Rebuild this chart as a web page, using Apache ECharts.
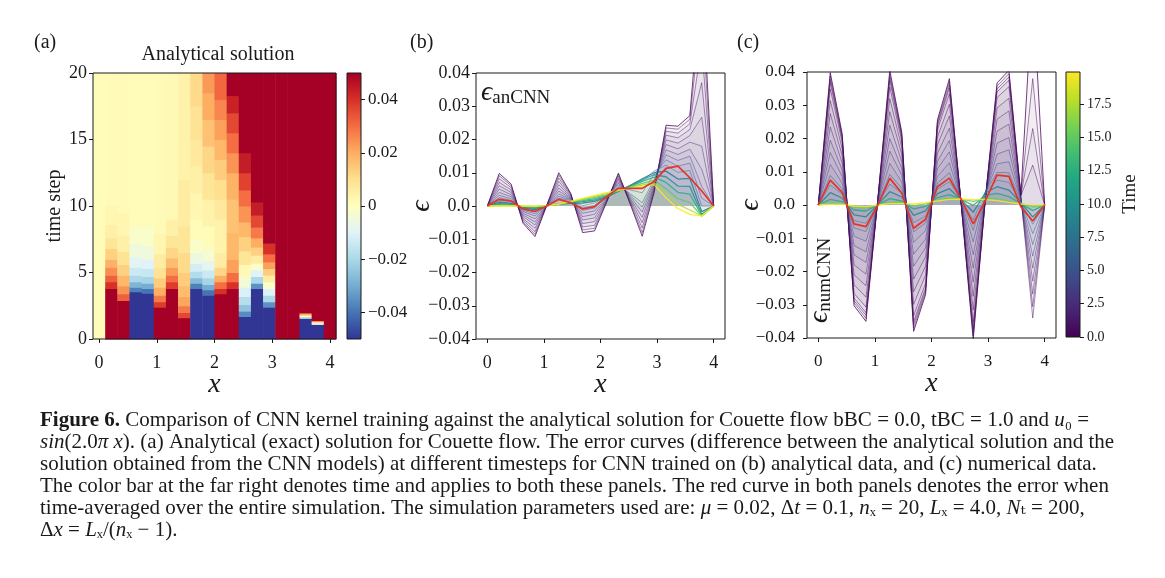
<!DOCTYPE html>
<html>
<head>
<meta charset="utf-8">
<title>Figure 6 - CNN kernel training vs analytical solution</title>
<script src="https://cdn.jsdelivr.net/npm/echarts@6.0.0/dist/echarts.min.js"></script>
<style>
  html, body { margin: 0; padding: 0; background: #fff; }
  #chart { width: 1165px; height: 578px; }
</style>
</head>
<body>
<div id="chart"></div>
<script>
// grid points in x (nx = 20, Lx = 4.0)
const xPts = [0.000, 0.211, 0.421, 0.632, 0.842, 1.053, 1.263, 1.474, 1.684, 1.895,
              2.105, 2.316, 2.526, 2.737, 2.947, 3.158, 3.368, 3.579, 3.789, 4.000];

// panel (a): each column is a list of runs [tStart, tEnd, value]
const heatCols = [
  [[0, 20, 0.001]],
  [[0, 3.8, 0.06], [3.8, 4.3, 0.04], [4.3, 4.8, 0.032], [4.8, 5.4, 0.025], [5.4, 6.0, 0.019], [6.0, 6.8, 0.013], [6.8, 7.6, 0.008], [7.6, 8.6, 0.005], [8.6, 10, 0.003], [10, 20, 0.0015]],
  [[0, 2.9, 0.06], [2.9, 3.4, 0.032], [3.4, 4.0, 0.024], [4.0, 4.8, 0.018], [4.8, 5.6, 0.013], [5.6, 6.6, 0.009], [6.6, 7.8, 0.005], [7.8, 9.5, 0.003], [9.5, 20, 0.0015]],
  [[0, 3.55, -0.06], [3.55, 3.9, -0.038], [3.9, 4.3, -0.028], [4.3, 4.8, -0.02], [4.8, 5.4, -0.014], [5.4, 6.2, -0.009], [6.2, 7.2, -0.005], [7.2, 8.5, -0.002], [8.5, 20, 0.001]],
  [[0, 3.45, -0.06], [3.45, 3.8, -0.04], [3.8, 4.2, -0.03], [4.2, 4.7, -0.021], [4.7, 5.3, -0.015], [5.3, 6.0, -0.01], [6.0, 7.0, -0.005], [7.0, 8.5, -0.002], [8.5, 20, 0.001]],
  [[0, 2.4, 0.06], [2.4, 2.8, 0.038], [2.8, 3.3, 0.028], [3.3, 3.9, 0.02], [3.9, 4.6, 0.014], [4.6, 5.4, 0.009], [5.4, 6.4, 0.006], [6.4, 8, 0.003], [8, 20, 0.0015]],
  [[0, 3.8, 0.06], [3.8, 4.3, 0.038], [4.3, 4.8, 0.03], [4.8, 5.4, 0.023], [5.4, 6.1, 0.017], [6.1, 6.9, 0.012], [6.9, 7.8, 0.008], [7.8, 9, 0.005], [9, 20, 0.002]],
  [[0, 1.6, 0.06], [1.6, 2.0, 0.036], [2.0, 2.5, 0.028], [2.5, 3.2, 0.021], [3.2, 4.0, 0.017], [4.0, 5.0, 0.014], [5.0, 6.5, 0.011], [6.5, 8.5, 0.008], [8.5, 12, 0.006], [12, 20, 0.004]],
  [[0, 3.8, -0.06], [3.8, 4.2, -0.038], [4.2, 4.6, -0.027], [4.6, 5.1, -0.019], [5.1, 5.7, -0.012], [5.7, 6.5, -0.006], [6.5, 7.5, -0.002], [7.5, 9, 0.001], [9, 11, 0.003], [11, 13, 0.005], [13, 15, 0.007], [15, 17.5, 0.009], [17.5, 20, 0.011]],
  [[0, 3.3, -0.06], [3.3, 3.7, -0.04], [3.7, 4.1, -0.03], [4.1, 4.6, -0.021], [4.6, 5.2, -0.014], [5.2, 5.9, -0.008], [5.9, 6.8, -0.003], [6.8, 8.5, 0.001], [8.5, 10.5, 0.004], [10.5, 12.5, 0.008], [12.5, 14.5, 0.012], [14.5, 16.5, 0.016], [16.5, 18.5, 0.02], [18.5, 20, 0.023]],
  [[0, 3.4, 0.06], [3.4, 3.8, 0.04], [3.8, 4.3, 0.03], [4.3, 4.8, 0.02], [4.8, 5.4, 0.012], [5.4, 6.5, 0.006], [6.5, 9, 0.004], [9, 10.5, 0.007], [10.5, 12, 0.01], [12, 13.5, 0.014], [13.5, 15, 0.018], [15, 16.5, 0.022], [16.5, 18, 0.026], [18, 20, 0.031]],
  [[0, 3.8, 0.06], [3.8, 4.3, 0.04], [4.3, 5.0, 0.03], [5.0, 6.0, 0.022], [6.0, 8.0, 0.018], [8.0, 10.5, 0.016], [10.5, 12.5, 0.019], [12.5, 14.0, 0.024], [14.0, 15.5, 0.03], [15.5, 17.0, 0.036], [17.0, 18.3, 0.043], [18.3, 20, 0.06]],
  [[0, 1.7, -0.06], [1.7, 2.1, -0.036], [2.1, 2.6, -0.025], [2.6, 3.2, -0.018], [3.2, 3.9, -0.011], [3.9, 4.7, -0.004], [4.7, 5.6, 0.002], [5.6, 6.6, 0.008], [6.6, 7.7, 0.013], [7.7, 8.8, 0.018], [8.8, 10, 0.024], [10, 11.2, 0.03], [11.2, 12.5, 0.037], [12.5, 14, 0.044], [14, 20, 0.06]],
  [[0, 3.8, -0.06], [3.8, 4.2, -0.035], [4.2, 4.7, -0.02], [4.7, 5.2, -0.01], [5.2, 5.7, -0.002], [5.7, 6.3, 0.006], [6.3, 6.9, 0.013], [6.9, 7.6, 0.02], [7.6, 8.4, 0.028], [8.4, 9.3, 0.036], [9.3, 10.3, 0.044], [10.3, 20, 0.06]],
  [[0, 2.4, -0.06], [2.4, 2.8, -0.035], [2.8, 3.3, -0.02], [3.3, 3.8, -0.01], [3.8, 4.3, -0.002], [4.3, 4.8, 0.006], [4.8, 5.3, 0.014], [5.3, 5.8, 0.022], [5.8, 6.4, 0.03], [6.4, 7.2, 0.04], [7.2, 20, 0.06]],
  [[0, 20, 0.06]],
  [[0, 20, 0.06]],
  [[0, 1.55, -0.06], [1.55, 1.68, -0.02], [1.68, 1.8, 0.0], [1.8, 1.92, 0.02], [1.92, 2.0, 0.035], [2.0, 20, 0.06]],
  [[0, 1.1, -0.06], [1.1, 1.2, -0.01], [1.2, 1.3, 0.005], [1.3, 1.4, 0.025], [1.4, 20, 0.06]],
  [[0, 20, 0.06]]
];

// panel (b): error curves at selected times (epsilon_anCNN)
const timesB = [0, 0.3, 0.7, 1.2, 1.8, 2.5, 3.3, 4.2, 5.2, 6.4, 8, 10, 12.5, 15, 17.5, 19.9];
const linesB = [
  [0, 0.0098, 0.0066, -0.0052, -0.0092, 0.0003, 0.0100, 0.0038, -0.0080, -0.0075, 0.0010, 0.0099, 0.0005, -0.0091, 0.0040, 0.0243, 0.0240, 0.0272, 0.0700, 0],
  [0, 0.0091, 0.0061, -0.0048, -0.0085, 0.0003, 0.0093, 0.0036, -0.0072, -0.0067, 0.0012, 0.0095, 0.0009, -0.0080, 0.0045, 0.0235, 0.0231, 0.0261, 0.0599, 0],
  [0, 0.0082, 0.0055, -0.0043, -0.0077, 0.0003, 0.0084, 0.0034, -0.0063, -0.0058, 0.0014, 0.0090, 0.0013, -0.0066, 0.0050, 0.0225, 0.0219, 0.0247, 0.0485, 0],
  [0, 0.0071, 0.0048, -0.0038, -0.0067, 0.0003, 0.0074, 0.0031, -0.0053, -0.0047, 0.0017, 0.0084, 0.0018, -0.0050, 0.0056, 0.0213, 0.0205, 0.0230, 0.0371, 0],
  [0, 0.0061, 0.0041, -0.0032, -0.0057, 0.0002, 0.0064, 0.0028, -0.0042, -0.0036, 0.0020, 0.0079, 0.0023, -0.0034, 0.0062, 0.0199, 0.0189, 0.0212, 0.0267, 0],
  [0, 0.0051, 0.0034, -0.0027, -0.0048, 0.0002, 0.0054, 0.0025, -0.0032, -0.0025, 0.0023, 0.0073, 0.0028, -0.0018, 0.0068, 0.0185, 0.0172, 0.0192, 0.0180, 0],
  [0, 0.0041, 0.0028, -0.0022, -0.0039, 0.0002, 0.0045, 0.0023, -0.0022, -0.0015, 0.0025, 0.0068, 0.0033, -0.0003, 0.0073, 0.0169, 0.0155, 0.0171, 0.0110, 0],
  [0, 0.0032, 0.0022, -0.0017, -0.0030, 0.0002, 0.0036, 0.0021, -0.0013, -0.0006, 0.0027, 0.0063, 0.0037, 0.0010, 0.0080, 0.0154, 0.0137, 0.0150, 0.0059, 0],
  [0, 0.0025, 0.0017, -0.0013, -0.0023, 0.0002, 0.0029, 0.0019, -0.0006, 0.0002, 0.0028, 0.0057, 0.0048, 0.0040, 0.0095, 0.0139, 0.0120, 0.0129, 0.0024, 0],
  [0, 0.0018, 0.0012, -0.0010, -0.0017, 0.0001, 0.0023, 0.0017, 0.0001, 0.0009, 0.0025, 0.0048, 0.0060, 0.0075, 0.0105, 0.0123, 0.0101, 0.0107, 0.0000, 0],
  [0, 0.0012, 0.0008, -0.0006, -0.0011, 0.0001, 0.0006, 0.0008, 0.0009, 0.0014, 0.0026, 0.0045, 0.0062, 0.0082, 0.0100, 0.0105, 0.0081, 0.0083, -0.0017, 0],
  [0, 0.0007, 0.0005, -0.0004, -0.0007, 0.0001, 0.0006, 0.0010, 0.0013, 0.0018, 0.0028, 0.0044, 0.0061, 0.0079, 0.0094, 0.0088, 0.0060, 0.0059, -0.0025, 0],
  [0, 0.0004, 0.0002, -0.0002, -0.0003, 0.0001, 0.0006, 0.0011, 0.0016, 0.0022, 0.0031, 0.0045, 0.0059, 0.0074, 0.0087, 0.0071, 0.0041, 0.0036, -0.0029, 0],
  [0, 0.0002, 0.0001, -0.0001, -0.0002, 0.0001, 0.0006, 0.0012, 0.0019, 0.0026, 0.0034, 0.0046, 0.0057, 0.0068, 0.0078, 0.0052, 0.0022, 0.0010, -0.0030, 0],
  [0, 0.0001, 0.0001, 0.0000, -0.0001, 0.0001, 0.0006, 0.0013, 0.0021, 0.0029, 0.0037, 0.0047, 0.0055, 0.0063, 0.0070, 0.0038, 0.0005, -0.0012, -0.0030, 0],
  [0, 0.0000, 0.0000, 0.0000, 0.0000, 0.0001, 0.0006, 0.0014, 0.0023, 0.0032, 0.0040, 0.0048, 0.0054, 0.0059, 0.0064, 0.0025, -0.0008, -0.0025, -0.0030, 0]
];
const meanB = [0, 0.0020, 0.0015, -0.0009, -0.0016, 0, 0.0020, 0.0010, -0.0009, -0.0002, 0.0028, 0.0053, 0.0053, 0.0053, 0.0074, 0.0113, 0.0120, 0.0085, 0.0045, 0];

// panel (c): error curves at selected times (epsilon_numCNN)
const timesC = [0, 0.1, 0.2, 0.3, 0.5, 0.9, 1.4, 2, 2.7, 3.5, 4.5, 5.7, 7.2, 9, 12, 15.5, 19.9];
const linesC = [
  [0, 0.0398, 0.0215, -0.0303, -0.0350, 0.0020, 0.0405, 0.0220, -0.0380, -0.0270, 0.0256, 0.0380, 0.0000, -0.0405, 0.0010, 0.0367, 0.0405, 0.0030, 0.0650, 0],
  [0, 0.0388, 0.0209, -0.0295, -0.0341, 0.0019, 0.0394, 0.0214, -0.0370, -0.0263, 0.0250, 0.0371, 0.0001, -0.0394, 0.0010, 0.0358, 0.0395, 0.0030, 0.0380, 0],
  [0, 0.0378, 0.0204, -0.0288, -0.0332, 0.0019, 0.0384, 0.0209, -0.0360, -0.0256, 0.0243, 0.0361, 0.0001, -0.0383, 0.0010, 0.0349, 0.0385, 0.0029, 0.0230, 0],
  [0, 0.0368, 0.0199, -0.0280, -0.0324, 0.0018, 0.0374, 0.0203, -0.0351, -0.0249, 0.0237, 0.0352, 0.0001, -0.0373, 0.0010, 0.0340, 0.0375, 0.0028, 0.0120, 0],
  [0, 0.0349, 0.0189, -0.0266, -0.0307, 0.0018, 0.0355, 0.0193, -0.0333, -0.0236, 0.0226, 0.0335, 0.0002, -0.0353, 0.0011, 0.0323, 0.0356, 0.0027, -0.0340, 0],
  [0, 0.0314, 0.0170, -0.0240, -0.0277, 0.0016, 0.0320, 0.0174, -0.0299, -0.0211, 0.0204, 0.0303, 0.0004, -0.0316, 0.0013, 0.0292, 0.0321, 0.0025, -0.0306, 0],
  [0, 0.0275, 0.0149, -0.0210, -0.0243, 0.0014, 0.0281, 0.0153, -0.0261, -0.0184, 0.0181, 0.0268, 0.0006, -0.0275, 0.0016, 0.0258, 0.0283, 0.0022, -0.0268, 0],
  [0, 0.0235, 0.0127, -0.0180, -0.0208, 0.0012, 0.0240, 0.0131, -0.0223, -0.0156, 0.0156, 0.0231, 0.0007, -0.0232, 0.0020, 0.0222, 0.0243, 0.0019, -0.0229, 0],
  [0, 0.0195, 0.0106, -0.0150, -0.0173, 0.0010, 0.0200, 0.0110, -0.0184, -0.0129, 0.0131, 0.0194, 0.0009, -0.0190, 0.0025, 0.0186, 0.0203, 0.0017, -0.0190, 0],
  [0, 0.0158, 0.0086, -0.0122, -0.0141, 0.0008, 0.0162, 0.0090, -0.0148, -0.0103, 0.0109, 0.0160, 0.0011, -0.0150, 0.0030, 0.0153, 0.0166, 0.0015, -0.0154, 0],
  [0, 0.0122, 0.0066, -0.0094, -0.0109, 0.0006, 0.0125, 0.0069, -0.0113, -0.0077, 0.0086, 0.0127, 0.0012, -0.0111, 0.0034, 0.0124, 0.0130, 0.0013, -0.0119, 0],
  [0, 0.0089, 0.0049, -0.0069, -0.0080, 0.0004, 0.0092, 0.0051, -0.0081, -0.0054, 0.0066, 0.0097, 0.0014, -0.0076, 0.0037, 0.0098, 0.0097, 0.0011, -0.0086, 0],
  [0, 0.0060, 0.0033, -0.0047, -0.0055, 0.0003, 0.0063, 0.0036, -0.0053, -0.0034, 0.0048, 0.0070, 0.0015, -0.0045, 0.0038, 0.0075, 0.0068, 0.0009, -0.0058, 0],
  [0, 0.0037, 0.0021, -0.0030, -0.0036, 0.0002, 0.0040, 0.0024, -0.0031, -0.0018, 0.0034, 0.0049, 0.0016, -0.0022, 0.0036, 0.0055, 0.0045, 0.0007, -0.0036, 0],
  [0, 0.0017, 0.0010, -0.0015, -0.0018, 0.0001, 0.0019, 0.0012, -0.0012, -0.0004, 0.0022, 0.0031, 0.0017, -0.0001, 0.0028, 0.0035, 0.0025, 0.0005, -0.0017, 0],
  [0, 0.0007, 0.0005, -0.0007, -0.0009, 0.0000, 0.0009, 0.0007, -0.0002, 0.0003, 0.0015, 0.0021, 0.0018, 0.0011, 0.0021, 0.0020, 0.0012, 0.0004, -0.0006, 0],
  [0, 0.0002, 0.0002, -0.0003, -0.0005, 0.0000, 0.0004, 0.0004, 0.0003, 0.0007, 0.0012, 0.0017, 0.0018, 0.0016, 0.0016, 0.0013, 0.0008, 0.0003, 0.0001, 0]
];
const meanC = [0, 0.0075, 0.0038, -0.0057, -0.0065, 0, 0.0080, 0.0036, -0.0070, -0.0043, 0.0055, 0.0081, 0.0017, -0.0057, 0.0011, 0.0090, 0.0086, -0.0005, -0.0048, 0];

// tick labels
const xTicks = [0, 1, 2, 3, 4];
const cbaTicks = [-0.04, -0.02, 0, 0.02, 0.04];
const cbcTicks = [0, 2.5, 5, 7.5, 10, 12.5, 15, 17.5];

const caption = [
  '{b|Figure 6.} Comparison of CNN kernel training against the analytical solution for Couette flow bBC = 0.0, tBC = 1.0 and {i|u}\u2080 =',
  '{i|sin}(2.0{i|\u03c0 x}). (a) Analytical (exact) solution for Couette flow. The error curves (difference between the analytical solution and the',
  'solution obtained from the CNN models) at different timesteps for CNN trained on (b) analytical data, and (c) numerical data.',
  'The color bar at the far right denotes time and applies to both these panels. The red curve in both panels denotes the error when',
  'time-averaged over the entire simulation. The simulation parameters used are: {i|\u03bc} = 0.02, \u0394{i|t} = 0.1, {i|n}\u2093 = 20, {i|L}\u2093 = 4.0, {i|N}\u209c = 200,',
  '\u0394{i|x} = {i|L}\u2093/({i|n}\u2093 \u2212 1).'
];

// colour maps
const RDYLBU_R = ['#313695', '#4575b4', '#74add1', '#abd9e9', '#e0f3f8', '#ffffbf',
                  '#fee090', '#fdae61', '#f46d43', '#d73027', '#a50026'];
const VIRIDIS = ['#440154', '#482475', '#414487', '#355f8d', '#2a788e', '#21918c',
                 '#22a884', '#44bf70', '#7ad151', '#bddf26', '#fde725'];

const FONT = "'Liberation Serif', 'DejaVu Serif', serif";
const INK = '#1a1a1a';

function heatColor(v) {
  const n = Math.min(1, Math.max(0, (v + 0.05) / 0.1));
  return echarts.color.lerp(n, RDYLBU_R);
}
function timeColor(t) {
  return echarts.color.lerp(Math.min(1, t / 19.9), VIRIDIS);
}
function minus(s) { return s.replace('-', '\u2212'); }
function gradStops(colors) {
  return colors.map((c, i) => ({ offset: i / (colors.length - 1), color: c }));
}

const halfW = (xPts[1] - xPts[0]) / 2;
const heatData = [];
heatCols.forEach((runs, i) => {
  runs.forEach(r => heatData.push([xPts[i], r[0], r[1], r[2]]));
});

var myChart = echarts.init(document.getElementById('chart'), null, { renderer: 'canvas' });

const gridBase = { show: true, borderColor: INK, borderWidth: 1, backgroundColor: 'rgba(0,0,0,0)', z: 10 };
const tickStyle = { show: true, inside: false, length: 4, lineStyle: { color: INK, width: 1 } };
const noLine = { show: false, onZero: false };

function xAxisFor(gridIndex, min, max, fs) {
  return {
    type: 'value', gridIndex: gridIndex, min: min, max: max, z: 10,
    axisLine: noLine, splitLine: { show: false },
    axisTick: Object.assign({ customValues: xTicks }, tickStyle),
    axisLabel: { customValues: xTicks, color: INK, fontFamily: FONT, fontSize: fs, margin: 15 },
    name: 'x', nameLocation: 'middle', nameGap: 32, nameMoveOverlap: false,
    nameTextStyle: { fontFamily: FONT, fontStyle: 'italic', fontSize: 28, color: INK }
  };
}
function errYAxis(gridIndex, fs, margin, gap) {
  return {
    type: 'value', gridIndex: gridIndex, min: -0.04, max: 0.04, interval: 0.01, z: 10,
    axisLine: noLine, splitLine: { show: false }, axisTick: tickStyle,
    axisLabel: {
      color: INK, fontFamily: FONT, fontSize: fs, margin: margin,
      formatter: v => Math.abs(v) < 1e-9 ? '0.0' : minus(v.toFixed(2))
    },
    name: '\u03f5', nameLocation: 'middle', nameGap: gap, nameRotate: 90, nameMoveOverlap: false,
    nameTextStyle: { fontFamily: FONT, fontStyle: 'italic', fontSize: 28, color: INK }
  };
}

const series = [];

// (a) heat map cells
series.push({
  type: 'custom', xAxisIndex: 0, yAxisIndex: 0, data: heatData, silent: true,
  encode: { x: 0, y: [1, 2] },
  renderItem: function (params, api) {
    const x = api.value(0);
    const p0 = api.coord([x - halfW, api.value(2)]);
    const p1 = api.coord([x + halfW, api.value(1)]);
    return {
      type: 'rect',
      shape: { x: p0[0], y: p0[1], width: p1[0] - p0[0] + 0.5, height: p1[1] - p0[1] + 0.5 },
      style: { fill: heatColor(api.value(3)) }
    };
  }
});

// colour bars
function colorBar(axisIdx, lo, hi, colors) {
  return {
    type: 'custom', xAxisIndex: axisIdx, yAxisIndex: axisIdx, data: [[0]], silent: true,
    renderItem: function (params, api) {
      const p0 = api.coord([0, hi]);
      const p1 = api.coord([1, lo]);
      return {
        type: 'rect',
        shape: { x: p0[0], y: p0[1], width: p1[0] - p0[0], height: p1[1] - p0[1] },
        style: { fill: new echarts.graphic.LinearGradient(0, 1, 0, 0, gradStops(colors)) }
      };
    }
  };
}
series.push(colorBar(1, -0.05, 0.05, RDYLBU_R));
series.push(colorBar(4, 0, 19.9, VIRIDIS));

// (b) and (c) error curves, coloured by time
function addCurves(axisIdx, times, lines, mean) {
  lines.forEach((row, k) => {
    const t = times[k];
    const c = timeColor(t);
    const late = t >= 8;
    series.push({
      type: 'line', xAxisIndex: axisIdx, yAxisIndex: axisIdx, silent: true,
      data: row.map((v, i) => [xPts[i], v]),
      symbol: 'none', clip: true,
      lineStyle: { color: c, width: late ? 1.3 : 0.8, opacity: k === 0 ? 0.95 : (late ? 0.85 : 0.6) },
      areaStyle: { color: c, opacity: 0.035 },
      z: 2
    });
  });
  series.push({
    type: 'line', xAxisIndex: axisIdx, yAxisIndex: axisIdx, silent: true,
    data: mean.map((v, i) => [xPts[i], v]),
    symbol: 'none', clip: true,
    lineStyle: { color: '#e3342a', width: 1.7 },
    z: 5
  });
}
addCurves(2, timesB, linesB, meanB);
addCurves(3, timesC, linesC, meanC);

const graphics = [
  { type: 'text', left: 34, top: 33, style: { text: '(a)', font: '20px ' + FONT, fill: INK } },
  { type: 'text', left: 410, top: 33, style: { text: '(b)', font: '20px ' + FONT, fill: INK } },
  { type: 'text', left: 737, top: 33, style: { text: '(c)', font: '20px ' + FONT, fill: INK } },
  { type: 'text', x: 218, y: 55, style: { text: 'Analytical solution', font: '20px ' + FONT, fill: INK, align: 'center', verticalAlign: 'middle' } },
  {
    type: 'text', x: 481, y: 93, z: 20,
    style: {
      text: '{e|\u03f5}{s|anCNN}', align: 'left', verticalAlign: 'middle', fill: INK,
      rich: {
        e: { fontFamily: FONT, fontStyle: 'italic', fontSize: 28, fill: INK, lineHeight: 30, verticalAlign: 'middle' },
        s: { fontFamily: FONT, fontSize: 19, fill: INK, lineHeight: 30, verticalAlign: 'bottom' }
      }
    }
  },
  {
    type: 'text', x: 820, y: 323, rotation: Math.PI / 2, z: 20,
    style: {
      text: '{e|\u03f5}{s|numCNN}', align: 'left', verticalAlign: 'middle', fill: INK,
      rich: {
        e: { fontFamily: FONT, fontStyle: 'italic', fontSize: 28, fill: INK, lineHeight: 30, verticalAlign: 'middle' },
        s: { fontFamily: FONT, fontSize: 19, fill: INK, lineHeight: 30, verticalAlign: 'bottom' }
      }
    }
  },
  { type: 'text', x: 1130, y: 194, rotation: Math.PI / 2, style: { text: 'Time', font: '19px ' + FONT, fill: INK, align: 'center', verticalAlign: 'middle' } }
];

caption.forEach((line, k) => {
  graphics.push({
    type: 'text', left: 40, top: 410 + 22 * k,
    style: {
      text: line, fill: INK, fontFamily: FONT, fontSize: 21,
      rich: {
        b: { fontFamily: FONT, fontSize: 21, fontWeight: 'bold', fill: INK },
        i: { fontFamily: FONT, fontSize: 21, fontStyle: 'italic', fill: INK }
      }
    }
  });
});

var option = {
  backgroundColor: '#ffffff',
  animation: false,
  textStyle: { fontFamily: FONT },
  grid: [
    Object.assign({ left: 93, top: 73, width: 243, height: 266 }, gridBase),
    Object.assign({ left: 347, top: 73, width: 14, height: 266 }, gridBase),
    Object.assign({ left: 476, top: 73, width: 249, height: 266 }, gridBase),
    Object.assign({ left: 807, top: 72, width: 249, height: 266 }, gridBase),
    Object.assign({ left: 1066, top: 72, width: 14, height: 265 }, gridBase)
  ],
  xAxis: [
    xAxisFor(0, -halfW, 4 + halfW, 18),
    { type: 'value', gridIndex: 1, min: 0, max: 1, show: false },
    xAxisFor(2, -0.2, 4.2, 18),
    xAxisFor(3, -0.2, 4.2, 17),
    { type: 'value', gridIndex: 4, min: 0, max: 1, show: false }
  ],
  yAxis: [
    {
      type: 'value', gridIndex: 0, min: 0, max: 20, interval: 5, z: 10,
      axisLine: noLine, splitLine: { show: false }, axisTick: tickStyle,
      axisLabel: { color: INK, fontFamily: FONT, fontSize: 18, margin: 6 },
      name: 'time step', nameLocation: 'middle', nameGap: 28, nameRotate: 90, nameMoveOverlap: false,
      nameTextStyle: { fontFamily: FONT, fontSize: 20, color: INK }
    },
    {
      type: 'value', gridIndex: 1, position: 'right', min: -0.05, max: 0.05, z: 10,
      axisLine: noLine, splitLine: { show: false },
      axisTick: Object.assign({ customValues: cbaTicks }, tickStyle),
      axisLabel: {
        customValues: cbaTicks, color: INK, fontFamily: FONT, fontSize: 17, margin: 7,
        formatter: v => Math.abs(v) < 1e-9 ? '0' : minus(v.toFixed(2))
      }
    },
    errYAxis(2, 18, 6, 40),
    errYAxis(3, 17, 12, 42),
    {
      type: 'value', gridIndex: 4, position: 'right', min: 0, max: 19.9, z: 10,
      axisLine: noLine, splitLine: { show: false },
      axisTick: Object.assign({ customValues: cbcTicks }, tickStyle),
      axisLabel: {
        customValues: cbcTicks, color: INK, fontFamily: FONT, fontSize: 14, margin: 7,
        formatter: v => v.toFixed(1)
      }
    }
  ],
  series: series,
  graphic: graphics
};

myChart.setOption(option);
</script>
</body>
</html>
